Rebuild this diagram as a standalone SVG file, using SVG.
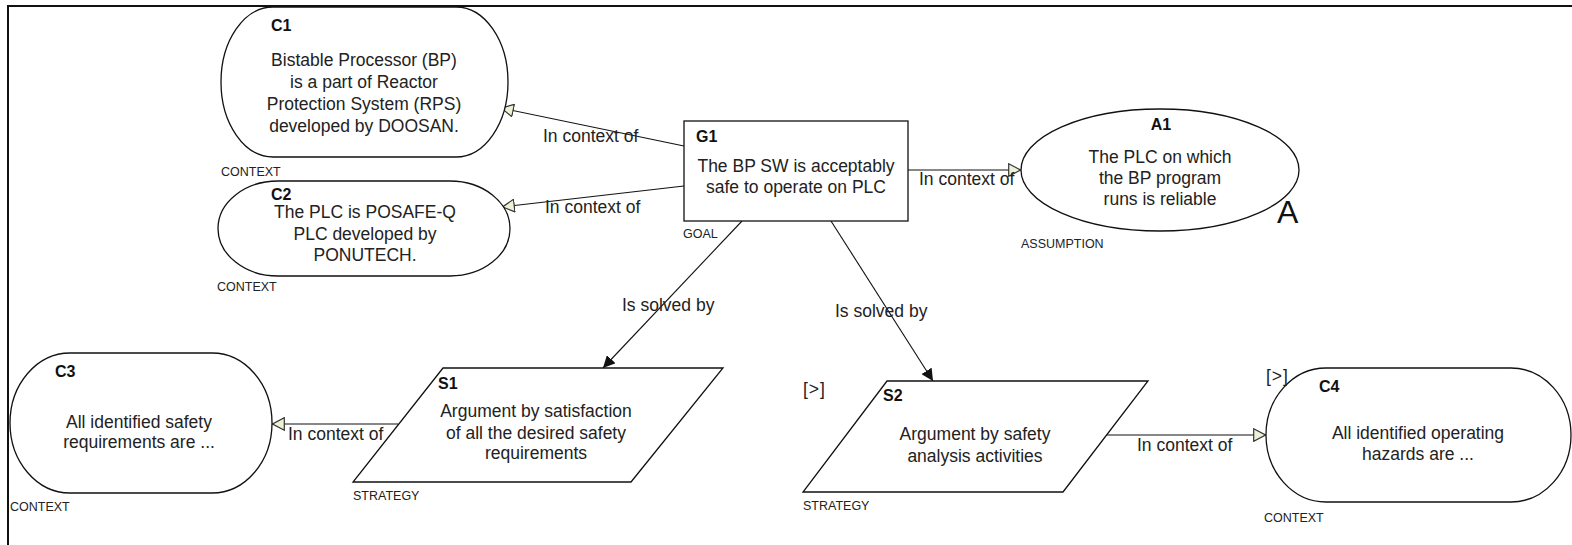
<svg xmlns="http://www.w3.org/2000/svg" width="1572" height="545" viewBox="0 0 1572 545">
<defs>
<style>
.shape{fill:#fff;stroke:#111;stroke-width:1.3}
.conn{fill:none;stroke:#111;stroke-width:1.1}
.t{font-family:"Liberation Sans",Arial,sans-serif;font-size:17.5px;fill:#222}
.c{text-anchor:middle}
.id{font-family:"Liberation Sans",Arial,sans-serif;font-size:16px;font-weight:bold;fill:#111}
.ty{font-family:"Liberation Sans",Arial,sans-serif;font-size:12.5px;fill:#222}
.big{font-family:"Liberation Sans",Arial,sans-serif;font-size:32px;fill:#111}
</style>
<marker id="ctx" viewBox="0 0 13 14" refX="13" refY="7" markerWidth="13" markerHeight="14" markerUnits="userSpaceOnUse" orient="auto">
<path d="M0.7,0.7 L12.5,7 L0.7,13.3 Z" fill="#eef1d6" stroke="#333" stroke-width="1.2"/>
</marker>
<marker id="sol" viewBox="0 0 12 12" refX="12" refY="6" markerWidth="12" markerHeight="12" markerUnits="userSpaceOnUse" orient="auto">
<path d="M0,0 L12,6 L0,12 Z" fill="#111"/>
</marker>
</defs>
<rect width="1572" height="545" fill="#fff"/>
<path d="M8,545 V6 H1572" fill="none" stroke="#111" stroke-width="2"/>

<g id="connectors">
<line class="conn" x1="684" y1="146" x2="501" y2="108" marker-end="url(#ctx)"/>
<text class="t" x="543" y="142">In context of</text>
<line class="conn" x1="684" y1="186" x2="502" y2="207" marker-end="url(#ctx)"/>
<text class="t" x="545" y="213">In context of</text>
<line class="conn" x1="908" y1="170" x2="1021" y2="170" marker-end="url(#ctx)"/>
<text class="t" x="919" y="185">In context of</text>
<line class="conn" x1="742" y1="221" x2="603" y2="368" marker-end="url(#sol)"/>
<text class="t" x="622" y="311">Is solved by</text>
<line class="conn" x1="831" y1="221" x2="933" y2="381" marker-end="url(#sol)"/>
<text class="t" x="835" y="317">Is solved by</text>
<line class="conn" x1="398" y1="424" x2="272" y2="424" marker-end="url(#ctx)"/>
<text class="t" x="288" y="440">In context of</text>
<line class="conn" x1="1107" y1="435" x2="1266" y2="435" marker-end="url(#ctx)"/>
<text class="t" x="1137" y="451">In context of</text>
</g>

<g id="C1">
<rect class="shape" x="221" y="7" width="287" height="150" rx="52" ry="75"/>
<text class="id" x="271" y="31">C1</text>
<text class="t c" x="364" y="66">Bistable Processor (BP)</text>
<text class="t c" x="364" y="88">is a part of Reactor</text>
<text class="t c" x="364" y="110">Protection System (RPS)</text>
<text class="t c" x="364" y="132">developed by DOOSAN.</text>
<text class="ty" x="221" y="176">CONTEXT</text>
</g>

<g id="C2">
<rect class="shape" x="218" y="181" width="292" height="95" rx="60" ry="47.5"/>
<text class="id" x="271" y="200">C2</text>
<text class="t c" x="365" y="218">The PLC is POSAFE-Q</text>
<text class="t c" x="365" y="240">PLC developed by</text>
<text class="t c" x="365" y="261">PONUTECH.</text>
<text class="ty" x="217" y="291">CONTEXT</text>
</g>

<g id="G1">
<rect class="shape" x="684" y="121" width="224" height="100"/>
<text class="id" x="696" y="142">G1</text>
<text class="t c" x="796" y="172">The BP SW is acceptably</text>
<text class="t c" x="796" y="193">safe to operate on PLC</text>
<text class="ty" x="683" y="238">GOAL</text>
</g>

<g id="A1">
<ellipse class="shape" cx="1160" cy="170" rx="139" ry="61"/>
<text class="id c" x="1161" y="130">A1</text>
<text class="t c" x="1160" y="163">The PLC on which</text>
<text class="t c" x="1160" y="184">the BP program</text>
<text class="t c" x="1160" y="205">runs is reliable</text>
<text class="big" x="1277" y="223">A</text>
<text class="ty" x="1021" y="248">ASSUMPTION</text>
</g>

<g id="C3">
<rect class="shape" x="10" y="353" width="262" height="140" rx="60" ry="70"/>
<text class="id" x="55" y="377">C3</text>
<text class="t c" x="139" y="428">All identified safety</text>
<text class="t c" x="139" y="448">requirements are ...</text>
<text class="ty" x="10" y="511">CONTEXT</text>
</g>

<g id="S1">
<polygon class="shape" points="443,368 723,368 631,482 353,482"/>
<text class="id" x="438" y="389">S1</text>
<text class="t c" x="536" y="417">Argument by satisfaction</text>
<text class="t c" x="536" y="439">of all the desired safety</text>
<text class="t c" x="536" y="459">requirements</text>
<text class="ty" x="353" y="500">STRATEGY</text>
</g>

<g id="S2">
<polygon class="shape" points="887,381 1148,381 1063,492 803,492"/>
<text class="t" x="803" y="395" letter-spacing="1">[&gt;]</text>
<text class="id" x="883" y="401">S2</text>
<text class="t c" x="975" y="440">Argument by safety</text>
<text class="t c" x="975" y="462">analysis activities</text>
<text class="ty" x="803" y="510">STRATEGY</text>
</g>

<g id="C4">
<rect class="shape" x="1266" y="368" width="305" height="134" rx="60" ry="67"/>
<text class="t" x="1266" y="382" letter-spacing="1">[&gt;]</text>
<text class="id" x="1319" y="392">C4</text>
<text class="t c" x="1418" y="439">All identified operating</text>
<text class="t c" x="1418" y="460">hazards are ...</text>
<text class="ty" x="1264" y="522">CONTEXT</text>
</g>
</svg>
